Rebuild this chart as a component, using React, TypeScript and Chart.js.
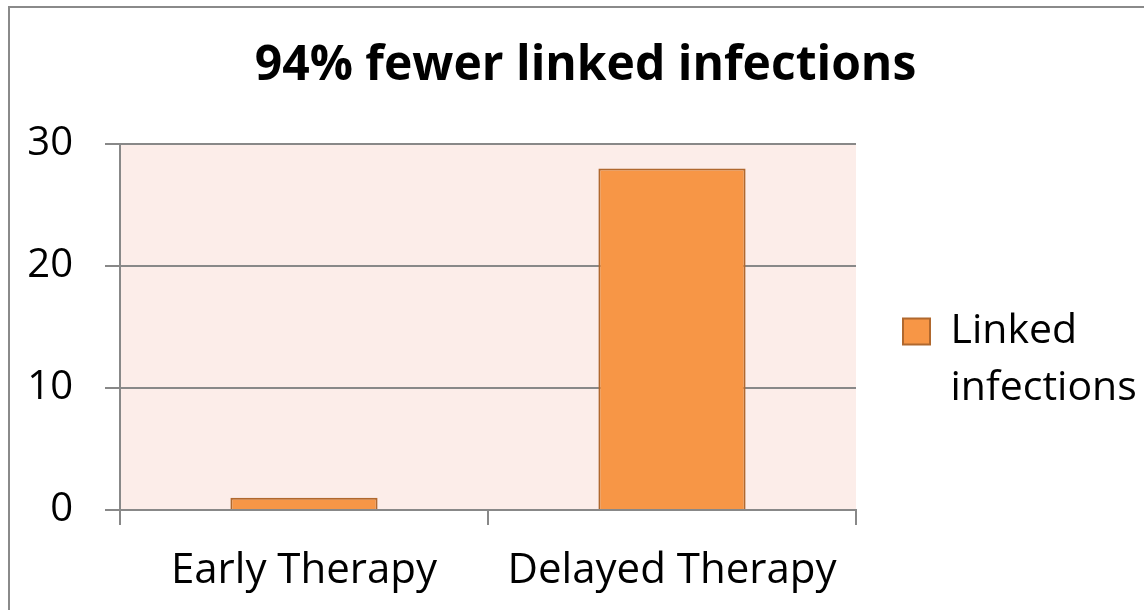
import React, { useEffect, useRef } from 'react';
import { Chart, registerables } from 'chart.js';

Chart.register(...registerables);

const titleText = '94% fewer linked infections';
const categories = ['Early Therapy', 'Delayed Therapy'];
const seriesName = 'Linked infections';
const linkedInfections = [1, 28];
const yTicks = [0, 10, 20, 30];

const FONT = "'Open Sans', 'Noto Sans', sans-serif";
const BAR_FILL = '#F79646';
const BAR_EDGE = '#B0682E';
const GRID = '#888888';
const PLOT_BG = '#FCEDE9';

const CANVAS_W = 1144;
const CANVAS_H = 736;
const LEGEND_FONT = 41;
const LEGEND_PAD = 47;
const LEGEND_BOX = 27;
const PLOT_RIGHT = 856;
const PLOT_LEFT = 120;
const PLOT_BOTTOM = 510;
const PAD_L = 1171 - CANVAS_W;

export default function App() {
  const ref = useRef<HTMLCanvasElement | null>(null);

  useEffect(() => {
    const canvas = ref.current;
    if (!canvas) return;
    canvas.width = CANVAS_W;
    canvas.height = CANVAS_H;
    canvas.style.width = CANVAS_W + 'px';
    canvas.style.height = CANVAS_H + 'px';

    const decor = {
      id: 'decor',
      beforeDraw(chart: any) {
        const { ctx, chartArea } = chart;
        ctx.save();
        ctx.fillStyle = '#ffffff';
        ctx.fillRect(0, 0, chart.width, chart.height);
        ctx.fillStyle = PLOT_BG;
        ctx.fillRect(chartArea.left, chartArea.top, chartArea.right - chartArea.left, chartArea.bottom - chartArea.top);
        ctx.fillStyle = '#8a8a8a';
        ctx.fillRect(8, 6, 2, chart.height);
        ctx.fillRect(8, 6, chart.width, 2);
        ctx.restore();
      },
    };

    const chart = new Chart(canvas, {
      type: 'bar',
      data: {
        labels: categories,
        datasets: [
          {
            label: seriesName,
            data: linkedInfections,
            backgroundColor: BAR_FILL,
            borderColor: BAR_EDGE,
            borderWidth: 2,
            categoryPercentage: 1,
            barPercentage: 0.4,
          },
        ],
      },
      options: {
        responsive: false,
        animation: false,
        devicePixelRatio: 1,
        layout: { padding: { left: PAD_L, right: 0, top: 0, bottom: 0 } },
        plugins: {
          title: {
            display: true,
            text: titleText,
            color: '#000000',
            font: { family: FONT, size: 48, weight: 'bold', lineHeight: 1.2 },
            padding: { top: 38, bottom: 144 - 38 - 48 * 1.2 },
          },
          legend: {
            display: true,
            position: 'right',
            maxWidth: CANVAS_W - PLOT_RIGHT,
            labels: {
              boxWidth: LEGEND_BOX,
              boxHeight: 26,
              padding: LEGEND_PAD,
              color: '#000000',
              font: { family: FONT, size: LEGEND_FONT, lineHeight: 1.39 },
              generateLabels(c: any) {
                const items = Chart.defaults.plugins.legend.labels.generateLabels(c);
                items.forEach((it: any) => {
                  it.text = String(it.text).split(' ');
                });
                return items;
              },
            },
          },
          tooltip: { enabled: false },
        },
        scales: {
          x: {
            afterFit(scale: any) {
              scale.height = CANVAS_H - PLOT_BOTTOM;
            },
            grid: {
              display: true,
              drawOnChartArea: false,
              drawTicks: true,
              tickLength: 15,
              color: GRID,
              lineWidth: 2,
            },
            border: { display: true, color: GRID, width: 2 },
            ticks: {
              color: '#000000',
              padding: 21,
              maxRotation: 0,
              font: { family: FONT, size: 42, lineHeight: 1.2 },
            },
          },
          y: {
            min: yTicks[0],
            max: yTicks[yTicks.length - 1],
            afterFit(scale: any) {
              scale.width = PLOT_LEFT - PAD_L;
            },
            ticks: {
              stepSize: yTicks[1] - yTicks[0],
              color: '#000000',
              padding: 32,
              font: { family: FONT, size: 40, lineHeight: 1.2 },
            },
            grid: {
              display: true,
              drawOnChartArea: true,
              drawTicks: true,
              tickLength: 15,
              color: GRID,
              lineWidth: 2,
            },
            border: { display: true, color: GRID, width: 2 },
          },
        },
      },
      plugins: [decor],
    });

    return () => {
      chart.destroy();
    };
  }, []);

  return (
    <div
      style={{
        position: 'absolute',
        left: 0,
        top: 0,
        width: 1144,
        height: 610,
        overflow: 'hidden',
        background: '#ffffff',
      }}
    >
      <canvas ref={ref} style={{ display: 'block' }} />
    </div>
  );
}
